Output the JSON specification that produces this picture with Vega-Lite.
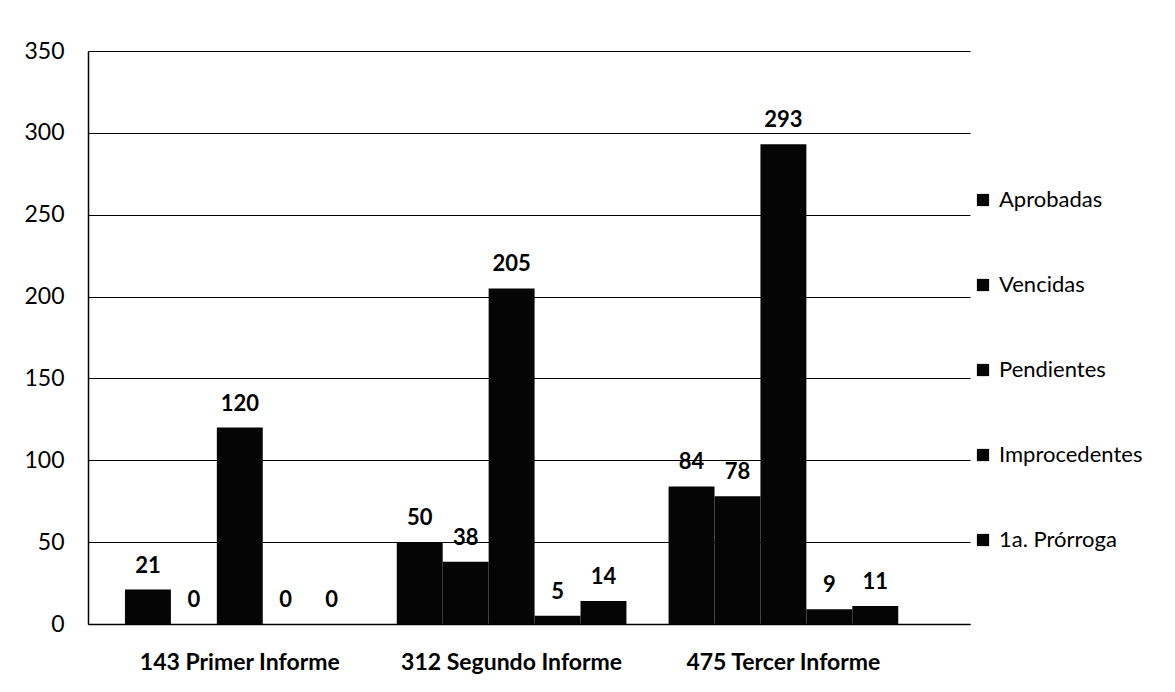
{
  "$schema": "https://vega.github.io/schema/vega-lite/v6.json",
  "width": 882,
  "height": 573,
  "autosize": {"type": "none"},
  "padding": {"left": 88, "top": 51, "right": 205, "bottom": 68},
  "background": "white",
  "config": {"view": {"stroke": null}, "font": "Lato"},
  "data": {
    "values": [
      {"informe": "143 Primer Informe", "serie": "Aprobadas", "valor": 21},
      {"informe": "143 Primer Informe", "serie": "Vencidas", "valor": 0},
      {"informe": "143 Primer Informe", "serie": "Pendientes", "valor": 120},
      {"informe": "143 Primer Informe", "serie": "Improcedentes", "valor": 0},
      {"informe": "143 Primer Informe", "serie": "1a. Prórroga", "valor": 0},
      {"informe": "312 Segundo Informe", "serie": "Aprobadas", "valor": 50},
      {"informe": "312 Segundo Informe", "serie": "Vencidas", "valor": 38},
      {"informe": "312 Segundo Informe", "serie": "Pendientes", "valor": 205},
      {"informe": "312 Segundo Informe", "serie": "Improcedentes", "valor": 5},
      {"informe": "312 Segundo Informe", "serie": "1a. Prórroga", "valor": 14},
      {"informe": "475 Tercer Informe", "serie": "Aprobadas", "valor": 84},
      {"informe": "475 Tercer Informe", "serie": "Vencidas", "valor": 78},
      {"informe": "475 Tercer Informe", "serie": "Pendientes", "valor": 293},
      {"informe": "475 Tercer Informe", "serie": "Improcedentes", "valor": 9},
      {"informe": "475 Tercer Informe", "serie": "1a. Prórroga", "valor": 11}
    ]
  },
  "encoding": {
    "x": {
      "field": "informe",
      "type": "nominal",
      "sort": ["143 Primer Informe", "312 Segundo Informe", "475 Tercer Informe"],
      "scale": {"paddingInner": 0.155, "paddingOuter": 0.2, "align": 0.34},
      "axis": {
        "title": null,
        "labelAngle": 0,
        "labelFontSize": 23,
        "labelFontWeight": "bold",
        "labelColor": "black",
        "labelPadding": 27,
        "labelLimit": 0,
        "ticks": false,
        "domainColor": "black",
        "domainWidth": 1.5
      }
    },
    "xOffset": {
      "field": "serie",
      "sort": ["Aprobadas", "Vencidas", "Pendientes", "Improcedentes", "1a. Prórroga"],
      "scale": {"paddingInner": 0, "paddingOuter": 0}
    },
    "y": {
      "field": "valor",
      "type": "quantitative",
      "scale": {"domain": [0, 350], "nice": false},
      "axis": {
        "title": null,
        "values": [0, 50, 100, 150, 200, 250, 300, 350],
        "labelFontSize": 23,
        "labelColor": "black",
        "labelPadding": 24,
        "ticks": false,
        "domainColor": "black",
        "domainWidth": 1.5,
        "gridColor": "black",
        "gridWidth": 1.2,
        "gridOpacity": 1
      }
    }
  },
  "layer": [
    {
      "mark": {"type": "bar"},
      "encoding": {
        "color": {
          "field": "serie",
          "type": "nominal",
          "sort": ["Aprobadas", "Vencidas", "Pendientes", "Improcedentes", "1a. Prórroga"],
          "scale": {"range": ["#050505", "#050505", "#050505", "#050505", "#050505"]},
          "legend": {
            "title": null,
            "orient": "none",
            "legendX": 884,
            "legendY": 138,
            "direction": "vertical",
            "symbolType": "square",
            "symbolSize": 150,
            "symbolStrokeWidth": 0,
            "labelFontSize": 22,
            "labelColor": "black",
            "labelOffset": 5,
            "labelLimit": 0,
            "rowPadding": 63
          }
        }
      }
    },
    {
      "mark": {"type": "text", "baseline": "bottom", "dy": -12, "fontSize": 22, "fontWeight": "bold", "color": "black"},
      "encoding": {"text": {"field": "valor", "type": "quantitative"}}
    }
  ]
}
